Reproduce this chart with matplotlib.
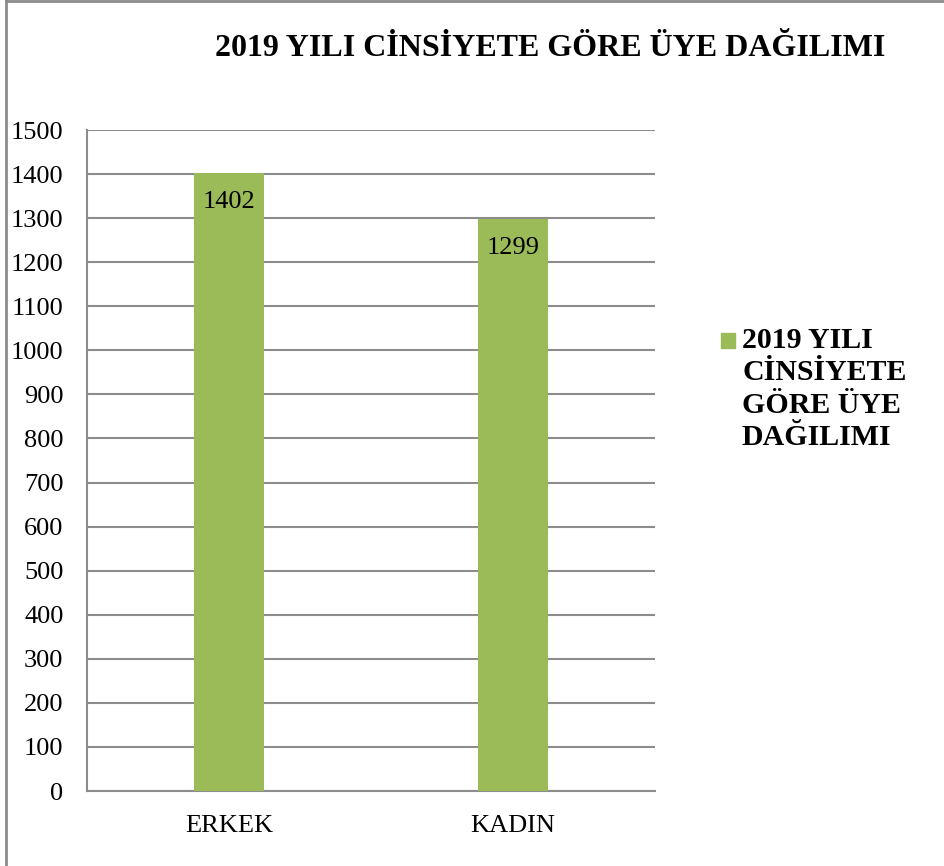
import matplotlib.pyplot as plt
from matplotlib.patches import Rectangle
from matplotlib.lines import Line2D

# ── Datos ────────────────────────────────────────────────────────────────
categorias = ["ERKEK", "KADIN"]
valores = [1402, 1299]
titulo = "2019 YILI CİNSİYETE GÖRE ÜYE DAĞILIMI"
leyenda = "2019 YILI\nCİNSİYETE\nGÖRE ÜYE\nDAĞILIMI"
yticks = list(range(0, 1501, 100))

VERDE = "#9BBB59"
GRIS = "#8C8C8C"

plt.rcParams.update({
    "font.family": ["Liberation Serif", "DejaVu Serif"],
})

W, H = 944, 866
fig = plt.figure(figsize=(W / 100, H / 100), dpi=100)
ax = fig.add_axes([87 / W, 1 - 791 / H, (655 - 87) / W, (791 - 130) / H])

x = range(len(categorias))
bars = ax.bar(x, valores, width=0.246, color=VERDE, zorder=3)
for b, v in zip(bars, valores):
    ax.text(b.get_x() + b.get_width() / 2, v - 66, str(v),
            ha="center", va="center", fontsize=19, zorder=4)

ax.set_xlim(-0.5, 1.5)
ax.set_ylim(0, 1500)
ax.set_yticks(yticks)
ax.set_xticks(list(x))
ax.set_xticklabels(categorias)
ax.tick_params(axis="both", labelsize=19, length=0)
ax.tick_params(axis="x", pad=17)
ax.tick_params(axis="y", pad=17)
ax.yaxis.grid(True, color=GRIS, linewidth=1.5, zorder=0)
for s in ["top", "right"]:
    ax.spines[s].set_visible(False)
for s in ["left", "bottom"]:
    ax.spines[s].set_color(GRIS)
    ax.spines[s].set_linewidth(1.5)

fig.text(550 / W, 1 - 48 / H, titulo, ha="center", va="center",
         fontsize=23, fontweight="bold")

# leyenda
fig.patches.append(Rectangle((721 / W, 1 - 348 / H), 14 / W, 15 / H,
                             transform=fig.transFigure, color=VERDE))
fig.text(742 / W, 1 - 327 / H, leyenda, ha="left", va="top",
         fontsize=21.5, fontweight="bold", linespacing=1.26)

# marco exterior
fig.lines.append(Line2D([6 / W, 6 / W], [0, 1], transform=fig.transFigure,
                        color=GRIS, linewidth=2))
fig.lines.append(Line2D([6 / W, 1], [1 - 1 / H, 1 - 1 / H], transform=fig.transFigure,
                        color=GRIS, linewidth=2))

fig.savefig("out.png", dpi=100, facecolor="white")
